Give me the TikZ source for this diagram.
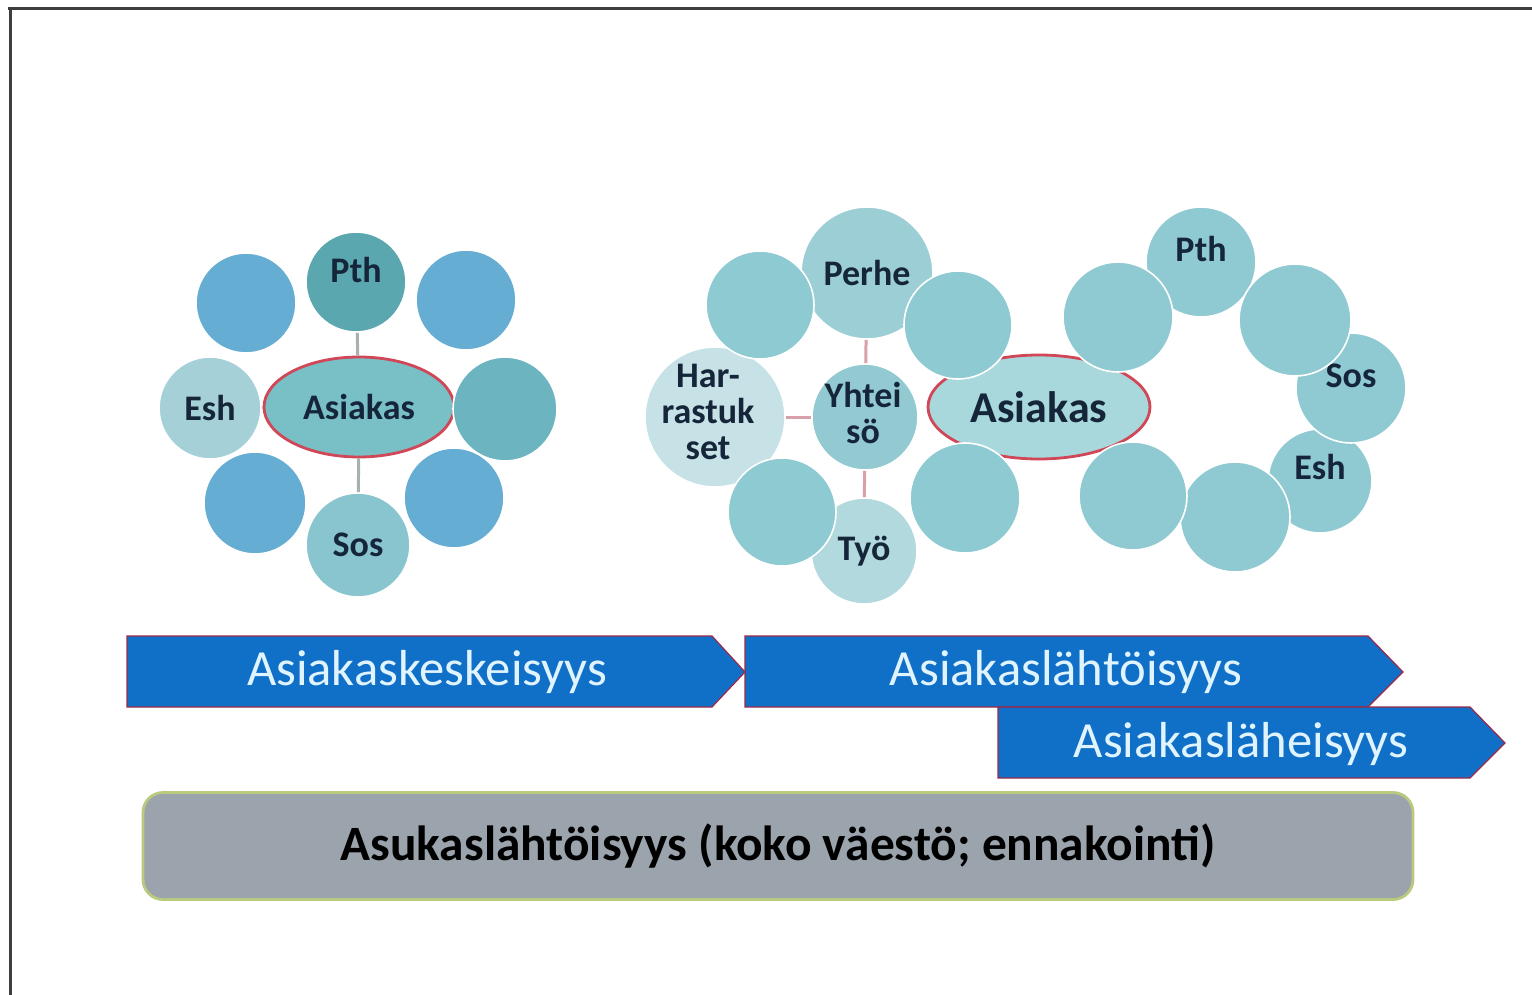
\documentclass[tikz,border=0pt]{standalone}
\usepackage{fontspec}
\setmainfont{Carlito}
\usetikzlibrary{shapes.geometric}
\definecolor{frame}{HTML}{3E3E3E}
\definecolor{labtxt}{HTML}{16263A}
\definecolor{lblue}{HTML}{66ADD3}
\definecolor{lpth}{HTML}{5AA7B0}
\definecolor{lesh}{HTML}{A6D0D8}
\definecolor{lright}{HTML}{6CB5C0}
\definecolor{lsos}{HTML}{89C5CE}
\definecolor{lasi}{HTML}{79BFC6}
\definecolor{mcirc}{HTML}{8ECAD2}
\definecolor{mperhe}{HTML}{9CCFD5}
\definecolor{mhar}{HTML}{C6E2E6}
\definecolor{myht}{HTML}{93CAD1}
\definecolor{mtyo}{HTML}{B2D9DD}
\definecolor{masi}{HTML}{A8D7DC}
\definecolor{rcirc}{HTML}{8FCAD2}
\definecolor{ellred}{HTML}{D04858}
\definecolor{gline}{HTML}{A8B0B0}
\definecolor{pline}{HTML}{D8A0A8}
\definecolor{arrblue}{HTML}{1070C8}
\definecolor{arrborder}{HTML}{9B2A4A}
\definecolor{arrtxt}{HTML}{E0F4FF}
\definecolor{boxgray}{HTML}{9BA4AD}
\definecolor{boxborder}{HTML}{B9C97E}
\begin{document}
\begin{tikzpicture}[x=0.5pt,y=-0.5pt,
  lf/.style={font=\bfseries\fontsize{18}{21}\selectfont, text=labtxt, align=center},
  bub/.style={circle, draw=white, line width=0.8pt, inner sep=0pt, lf},
  ell/.style={ellipse, draw=ellred, line width=1.4pt, inner sep=0pt, lf},
  gconn/.style={draw=gline, line width=1.5pt},
  pconn/.style={draw=pline, line width=1.5pt},
  arrowbox/.style={fill=arrblue, draw=arrborder, line width=0.6pt},
  arrlab/.style={font=\fontsize{25.3}{29}\selectfont, text=arrtxt},
  basebox/.style={rounded corners=10pt, fill=boxgray, draw=boxborder, line width=1.4pt,
    font=\bfseries\fontsize{24.7}{28}\selectfont, text=black, minimum width=635pt, minimum height=53.5pt}]
\useasboundingbox (0,0) rectangle (1532,995);
\fill[white] (0,0) rectangle (1532,995);
% frame
\draw[frame, line width=1.5pt] (8,9) -- (1532,9);
\draw[frame, line width=1.5pt] (10,9) -- (10,995);

% ---------- left cluster ----------
\node[ell, fill=lasi, minimum width=95pt, minimum height=50pt] (Lasi) at (359,407) {Asiakas};
\node[bub, fill=lpth, minimum size=50pt, label={[lf, yshift=6pt]center:Pth}] (Lpth) at (356,282) {};
\node[bub, fill=lblue, minimum size=50pt] (Ltl) at (246,303) {};
\node[bub, fill=lblue, minimum size=50pt] (Ltr) at (466,300) {};
\node[bub, fill=lesh, minimum size=51pt] (Lesh) at (210,408) {Esh};
\node[bub, fill=lright, minimum size=52pt] (Lr) at (505,409) {};
\node[bub, fill=lblue, minimum size=51pt] (Lbl) at (255,503) {};
\node[bub, fill=lblue, minimum size=50pt] (Lbr) at (454,498) {};
\node[bub, fill=lsos, minimum size=52pt] (Lsos) at (358,545) {Sos};
\draw[gconn] (Lpth) -- (Lasi);
\draw[gconn] (Lasi) -- (Lsos);
\draw[gconn] (Lesh) -- (Lasi);

% ---------- middle cluster ----------
\node[ell, fill=masi, minimum width=111pt, minimum height=52pt,
  font=\bfseries\fontsize{22}{26}\selectfont] (Masi) at (1039,407) {Asiakas};
\node[bub, fill=mhar, minimum size=70pt,
  label={[lf, xshift=-3.5pt, yshift=2.5pt]center:Har-\\[-3pt]rastuk\\[-3pt]set}] (Mhar) at (715,417) {};
\node[bub, fill=mtyo, minimum size=53pt] (Mtyo) at (864,551) {Työ};
\node[bub, fill=mperhe, minimum size=66pt] (Mperhe) at (867,273) {Perhe};
\node[bub, fill=mcirc, minimum size=54pt] (Mtl) at (760,305) {};
\node[bub, fill=mcirc, minimum size=54pt] (Mtr) at (958,325) {};
\node[bub, fill=mcirc, minimum size=54pt] (Mbl) at (782,512) {};
\node[bub, fill=mcirc, minimum size=55pt] (Mbr) at (965,498) {};
\node[bub, fill=myht, minimum size=53pt,
  label={[lf, xshift=-1pt, yshift=2pt]center:Yhtei\\[-3pt]sö}] (Myht) at (865,417) {};
\draw[pconn] (Myht) -- (Mperhe);
\draw[pconn] (Myht) -- (Mhar);
\draw[pconn] (Myht) -- (Mtyo);

% ---------- right cluster ----------
\node[bub, fill=rcirc, minimum size=55pt, label={[lf, yshift=6.5pt]center:Pth}] (Rpth) at (1201,262) {};
\node[bub, fill=rcirc, minimum size=52pt, label={[lf, yshift=7pt]center:Esh}] (Resh) at (1320,481) {};
\node[bub, fill=rcirc, minimum size=55pt, label={[lf, yshift=6pt]center:Sos}] (Rsos) at (1351,388) {};
\node[bub, fill=rcirc, minimum size=55pt] (Rtl) at (1118,317) {};
\node[bub, fill=rcirc, minimum size=56pt] (Rtr) at (1295,320) {};
\node[bub, fill=rcirc, minimum size=55pt] (Rbm) at (1235,517) {};
\node[bub, fill=rcirc, minimum size=54pt] (Rbl) at (1133,496) {};

% ---------- arrows ----------
\draw[arrowbox] (127,636) -- (712,636) -- (745,672) -- (712,707) -- (127,707) -- cycle;
\node[arrlab] (A1) at (427,672) {Asiakaskeskeisyys};
\draw[arrowbox] (745,636) -- (1368,636) -- (1403,672) -- (1368,707) -- (745,707) -- cycle;
\node[arrlab] (A2) at (1066,672) {Asiakaslähtöisyys};
\draw[arrowbox] (998,707) -- (1470,707) -- (1505,743) -- (1470,778) -- (998,778) -- cycle;
\node[arrlab] (A3) at (1241,744) {Asiakasläheisyys};

% ---------- base box ----------
\node[basebox] (Base) at (778,846) {Asukaslähtöisyys (koko väestö; ennakointi)};
\end{tikzpicture}
\end{document}
